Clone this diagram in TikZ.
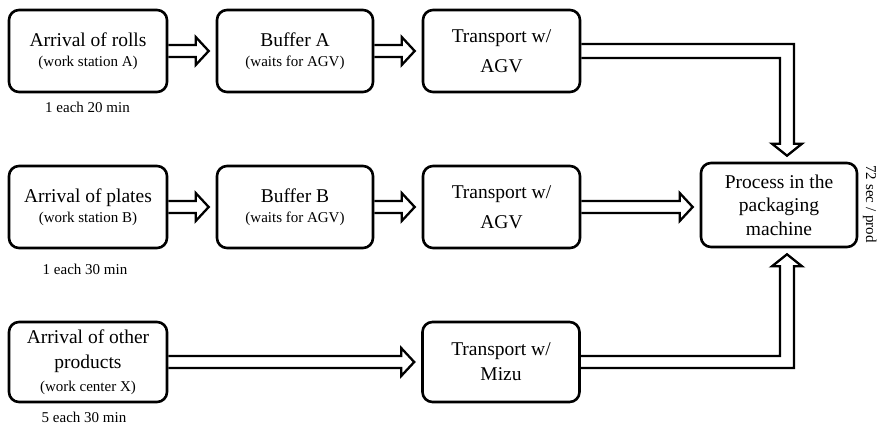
\documentclass[tikz,border=0pt]{standalone}
\usepackage{fontspec}
\setmainfont{Liberation Serif}
\usetikzlibrary{calc}
\newcommand\mainsz{\fontsize{19.5}{23}\selectfont}
\newcommand\subsz{\fontsize{15}{18}\selectfont}
% hollow block arrow from anchor #1 to a tip just before anchor #2
\newcommand\harrow[2]{%
  \draw[arr] ($(#1)+(0,-6)$) -- ($(#2)+(-20,-6)$) -- ($(#2)+(-20,-14)$)
    -- ($(#2)+(-7,0)$) -- ($(#2)+(-20,14)$) -- ($(#2)+(-20,6)$) -- ($(#1)+(0,6)$);}
\begin{document}
\begin{tikzpicture}[x=1pt,y=-1pt,
  box/.style={draw, line width=2.6pt, rounded corners=10pt, minimum width=157pt,
    minimum height=82pt, inner sep=0pt, align=center, font=\mainsz},
  arr/.style={draw, line width=2.3pt, line join=miter},
  lab/.style={font=\subsz, inner sep=0pt}]
\useasboundingbox[fill=white] (0,0) rectangle (877,424);

% row 1
\node[box, minimum width=158pt] (a1) at (88,51) {Arrival of rolls\\[-3pt]{\subsz (work station A)}};
\node[box, minimum width=156pt] (b1) at (295,51) {Buffer A\\[-3pt]{\subsz (waits for AGV)}};
\node[box] (t1) at (501.5,51) {Transport w/\\[7pt]AGV};
% row 2
\node[box, minimum width=158pt] (a2) at (88,207) {Arrival of plates\\[-3pt]{\subsz (work station B)}};
\node[box, minimum width=156pt] (b2) at (295,207) {Buffer B\\[-3pt]{\subsz (waits for AGV)}};
\node[box] (t2) at (501.5,207) {Transport w/\\[7pt]AGV};
% row 3
\node[box, minimum width=158pt, minimum height=80pt] (a3) at (88,362) {Arrival of other\\[2pt]products\\[0pt]{\subsz (work center X)}};
\node[box, minimum height=80pt] (t3) at (501,362) {Transport w/\\[2pt]Mizu};
% packaging machine
\node[box, minimum width=156pt, minimum height=84pt] (pk) at (779,205) {Process in the\\[0.5pt]packaging\\[0.5pt]machine};

% rates
\node[lab] (r1) at ($(a1.south)+(-0.5,14)$) {1 each 20 min};
\node[lab] (r2) at ($(a2.south)+(-3,20)$) {1 each 30 min};
\node[lab] (r3) at ($(a3.south)+(-4,14)$) {5 each 30 min};
\node[lab, rotate=-90] (rp) at ($(pk.east)+(11.5,-1)$) {72 sec / prod};

% straight hollow arrows
\harrow{a1.east}{b1.west}
\harrow{b1.east}{t1.west}
\harrow{a2.east}{b2.west}
\harrow{b2.east}{t2.west}
\harrow{a3.east}{t3.west}
\coordinate (m2) at (t2.east -| pk.west);
\harrow{t2.east}{m2}

% bent hollow arrows into the packaging machine
\coordinate (v1) at ($(pk.north)+(8,0)$);
\coordinate (v2) at ($(pk.south)+(8,0)$);
\draw[arr] ($(t1.east)+(0,-7)$) -| ($(v1)+(7,-18)$) -- ($(v1)+(15,-18)$)
  -- ($(v1)+(0,-6)$) -- ($(v1)+(-15,-18)$) -- ($(v1)+(-7,-18)$) |- ($(t1.east)+(0,7)$);
\draw[arr] ($(t3.east)+(0,6)$) -| ($(v2)+(7,18)$) -- ($(v2)+(15,18)$)
  -- ($(v2)+(0,6)$) -- ($(v2)+(-15,18)$) -- ($(v2)+(-7,18)$) |- ($(t3.east)+(0,-6)$);
\end{tikzpicture}
\end{document}
